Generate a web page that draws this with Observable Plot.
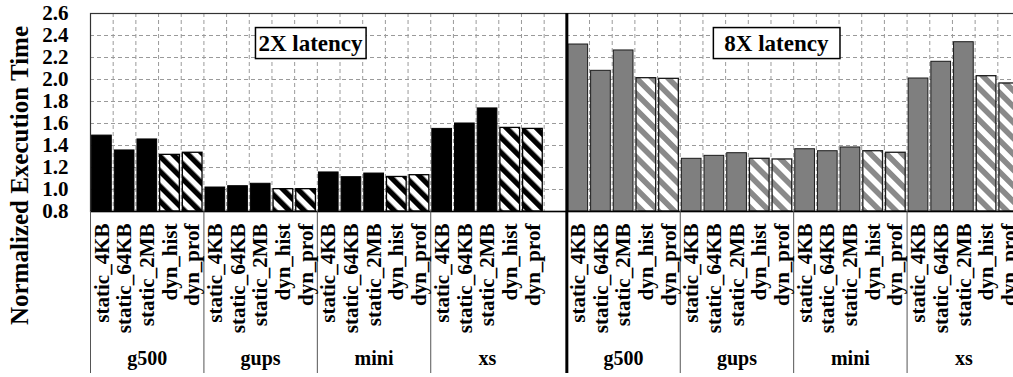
<!DOCTYPE html>
<html><head><meta charset="utf-8">
<script src="https://cdn.jsdelivr.net/npm/d3@7"></script>
<script src="https://cdn.jsdelivr.net/npm/@observablehq/plot@0.6"></script>
<style>
html,body{margin:0;padding:0;background:#fff;overflow:hidden;}
#chart{width:1013px;height:377px;overflow:hidden;}
#chart svg{font-family:'Liberation Serif','Times New Roman',serif !important;font-weight:bold;max-width:none !important;}
</style>
</head><body><div id="chart"></div>
<script>
// ---------- data ----------
const benchmarks = ["g500", "gups", "mini", "xs"];
const configs = ["static_4KB", "static_64KB", "static_2MB", "dyn_hist", "dyn_prof"];
const latencies = ["2X latency", "8X latency"];
const yTicks = [0.8, 1.0, 1.2, 1.4, 1.6, 1.8, 2.0, 2.2, 2.4, 2.6];
const yTitle = "Normalized Execution Time";
// rows: benchmark, columns: config
const values2X = [
  [1.490, 1.355, 1.455, 1.315, 1.334],
  [1.018, 1.030, 1.052, 1.003, 1.003],
  [1.155, 1.112, 1.145, 1.114, 1.130],
  [1.551, 1.600, 1.737, 1.560, 1.551]
];
const values8X = [
  [2.318, 2.079, 2.264, 2.012, 2.006],
  [1.279, 1.306, 1.330, 1.279, 1.273],
  [1.366, 1.348, 1.382, 1.348, 1.334],
  [2.009, 2.161, 2.339, 2.030, 1.964]
];
const panelValues = [values2X, values8X];

// ---------- build table ----------
const perPanel = benchmarks.length * configs.length + 1; // one empty slot between panels
const nSlots = latencies.length * perPanel - 1;
const rows = [];
latencies.forEach((lat, h) => {
  benchmarks.forEach((bench, g) => {
    configs.forEach((config, k) => {
      rows.push({lat, h, bench, config, value: panelValues[h][g][k],
        slot: h * perPanel + g * configs.length + k, dyn: config.startsWith("dyn")});
    });
  });
});
const groups = latencies.flatMap((lat, h) => benchmarks.map((bench, g) =>
  ({lat, h, bench, start: h * perPanel + g * configs.length})));
const thinSeparators = groups.filter(d => d.start !== perPanel).map(d => d.start).concat([nSlots]);
const thickSeparators = [perPanel];
const gridX = d3.range(1, nSlots);
const gridY = yTicks.slice(1, -1);

// ---------- layout ----------
const W = 1022, H = 377, mL = 90, mR = 2, mT = 13, mB = 166;
const plotH = H - mT - mB;
const y0 = yTicks[0], y1 = yTicks[yTicks.length - 1];
const FONT = "'Liberation Serif', 'Times New Roman', serif";
const styles = {
  "2X latency": {solid: "#000000", hatch: "url(#hatch2)", stroke: "#000000"},
  "8X latency": {solid: "#7f7f7f", hatch: "url(#hatch8)", stroke: "#1a1a1a"}
};
const annots = latencies.map((lat, h) => ({
  text: lat,
  x: h === 0 ? 9.7 : perPanel + 9.24,
  y: 2.33,
  padX: h === 0 ? 3 : 11
}));

const barMarks = [];
latencies.forEach(lat => {
  [false, true].forEach(dyn => {
    barMarks.push(Plot.rect(rows.filter(d => d.lat === lat && d.dyn === dyn), {
      x1: "slot", x2: d => d.slot + 1, y1: y0, y2: "value",
      fill: dyn ? styles[lat].hatch : styles[lat].solid,
      stroke: styles[lat].stroke, strokeWidth: dyn ? 1.3 : 1,
      insetLeft: 1.6, insetRight: 1.4
    }));
  });
});

const plot = Plot.plot({
  width: W, height: H,
  marginLeft: mL, marginRight: mR, marginTop: mT, marginBottom: mB,
  style: `font-family: ${FONT}; font-weight: bold; font-size: 21px; max-width: none; background: #fff; color: #000;`,
  x: {domain: [0, nSlots], axis: null},
  y: {domain: [y0, y1], axis: null},
  marks: [
    Plot.ruleY(gridY, {y: d => d, stroke: "#9a9a9a", strokeDasharray: "4 3", strokeWidth: 1}),
    Plot.ruleX(gridX, {x: d => d, stroke: "#9a9a9a", strokeDasharray: "4 3", strokeWidth: 1}),
    ...barMarks,
    Plot.frame({stroke: "#333", strokeWidth: 1.2}),
    Plot.ruleY([y0], {stroke: "#000", strokeWidth: 1.5}),
    Plot.ruleX(thinSeparators, {stroke: "#555", strokeWidth: 1, insetTop: plotH, insetBottom: -(mB - 4)}),
    Plot.ruleX(thickSeparators, {stroke: "#000", strokeWidth: 3, insetBottom: -(mB - 4)}),
    Plot.axisY({ticks: yTicks, tickFormat: d3.format(".1f"), tickSize: 0, tickPadding: 22,
                fontSize: 21, fontFamily: FONT, fontWeight: "bold", label: null}),
    Plot.text(rows, {x: d => d.slot + 0.5, y: y0, text: "config", rotate: -90,
                     textAnchor: "end", dy: 12, fontSize: 21, fontFamily: FONT, fontWeight: "bold"}),
    Plot.text(groups, {x: d => d.start + configs.length / 2, y: y0, text: "bench", dy: 147,
                       fontSize: 20, fontFamily: FONT, fontWeight: "bold"}),
    Plot.text([yTitle], {x: 0, y: y0, text: d => d, rotate: -90, dx: -71, dy: -36,
                         fontSize: 25, fontFamily: FONT, fontWeight: "bold"}),
    Plot.text(annots, {x: "x", y: "y", text: "text", fontSize: 23, fontFamily: FONT,
                       fontWeight: "bold", className: "annot"})
  ]
});

// hatch patterns
const defs = d3.select(plot).insert("defs", ":first-child");
function hatch(id, color, period) {
  const p = defs.append("pattern").attr("id", id).attr("patternUnits", "userSpaceOnUse")
    .attr("width", period).attr("height", period).attr("patternTransform", "rotate(-45)");
  p.append("rect").attr("width", period).attr("height", period).attr("fill", "#fff");
  p.append("rect").attr("width", period / 2).attr("height", period).attr("fill", color);
}
hatch("hatch2", "#000", 10.6);
hatch("hatch8", "#8a8a8a", 11.2);

document.getElementById("chart").appendChild(plot);

// boxes around annotations
d3.select(plot).selectAll("g.annot text").each(function(d, i) {
  const t = this, bb = t.getBBox();
  const a = annots[i];
  const r = document.createElementNS("http://www.w3.org/2000/svg", "rect");
  r.setAttribute("x", bb.x - a.padX);
  r.setAttribute("y", bb.y - 3);
  r.setAttribute("width", bb.width + 2 * a.padX);
  r.setAttribute("height", bb.height + 6);
  r.setAttribute("fill", "#fff");
  r.setAttribute("stroke", "#000");
  r.setAttribute("stroke-width", 1.5);
  if (t.getAttribute("transform")) r.setAttribute("transform", t.getAttribute("transform"));
  t.parentNode.insertBefore(r, t);
});
</script>
</body></html>
